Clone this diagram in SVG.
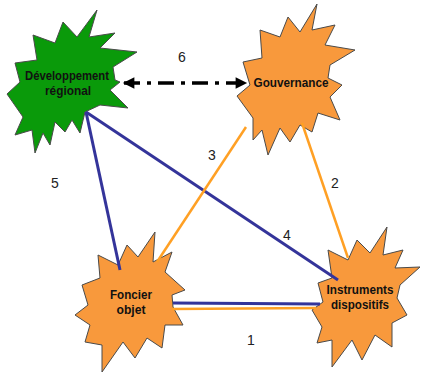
<svg xmlns="http://www.w3.org/2000/svg" width="422" height="374" viewBox="0 0 422 374">
<style>
.burst{stroke:#4a4a4a;stroke-width:1;stroke-linejoin:miter}
.orange{fill:#F8993C}
.green{fill:#0A9A0A}
.nt{font-family:"Liberation Sans",Arial,sans-serif;font-weight:bold;font-size:13px;fill:#111;text-anchor:middle}
.lbl{font-family:"Liberation Sans",Arial,sans-serif;font-size:14px;fill:#222;text-anchor:middle}
.blue{stroke:#34349A;stroke-width:3;fill:none}
.org{stroke:#FFA024;stroke-width:2.5;fill:none}
.dash{stroke:#000;stroke-width:3.5;fill:none;stroke-dasharray:16 7 4 7}
</style>
<defs>
<marker id="ah" viewBox="0 0 10 10" refX="9" refY="5" markerWidth="3.5" markerHeight="3.3" orient="auto-start-reverse" markerUnits="strokeWidth">
<path d="M0,0 L10,5 L0,10 z" fill="#000"/>
</marker>
</defs>
<g id="dev">
<polygon class="burst green" points="97,10 89,37 115,33 100,48 137,52 113,67 115,80 120,82 110,90 128,108 100,105 85,112 80,133 72,120 65,132 55,122 50,145 43,133 35,153 32,130 15,135 23,117 7,94 20,82 15,63 37,60 33,35 55,43 63,22 77,37"/>
<text class="nt" x="67" y="80" textLength="84" lengthAdjust="spacingAndGlyphs">Développement</text>
<text class="nt" x="68" y="95" textLength="46" lengthAdjust="spacingAndGlyphs">régional</text>
</g>
<g id="gouv">
<polygon class="burst orange" points="317,4 312,30 335,25 325,45 355,50 330,65 328,78 342,85 330,97 340,120 318,113 312,132 300,125 290,142 280,128 268,155 262,130 253,140 253,118 237,96 250,85 243,62 262,58 260,30 280,37 288,17 300,32"/>
<text class="nt" x="291" y="87" textLength="75" lengthAdjust="spacingAndGlyphs">Gouvernance</text>
</g>
<g id="foncier">
<polygon class="burst orange" points="155,232 153,262 172,252 165,272 185,290 172,295 173,307 183,325 165,325 162,348 147,338 135,358 123,342 102,372 102,345 85,342 90,325 75,315 88,305 82,285 100,278 98,255 118,265 127,245 138,257"/>
<text class="nt" x="131" y="299" textLength="42" lengthAdjust="spacingAndGlyphs">Foncier</text>
<text class="nt" x="131" y="314" textLength="29" lengthAdjust="spacingAndGlyphs">objet</text>
</g>
<g id="instr">
<polygon class="burst orange" points="387,227 383,255 403,250 395,268 420,267 400,285 397,298 407,315 392,323 392,347 375,335 362,360 352,340 332,367 332,340 317,343 322,327 312,310 323,302 318,283 332,278 328,250 348,260 357,240 370,253"/>
<text class="nt" x="360" y="294" textLength="67" lengthAdjust="spacingAndGlyphs">Instruments</text>
<text class="nt" x="360" y="309" textLength="58" lengthAdjust="spacingAndGlyphs">dispositifs</text>
</g>
<g id="connectors">
<line class="blue" x1="120" y1="270" x2="86" y2="112"/>
<line class="blue" x1="86" y1="112" x2="338" y2="280"/>
<line class="org" x1="157" y1="262" x2="246" y2="127"/>
<line class="org" x1="302" y1="123" x2="348" y2="258"/>
<line class="blue" x1="173" y1="303" x2="320" y2="304"/>
<line class="org" x1="172" y1="309" x2="316" y2="308"/>
<line class="dash" x1="124" y1="83" x2="246" y2="83" marker-start="url(#ah)" marker-end="url(#ah)"/>
</g>
<g id="labels">
<text class="lbl" x="182" y="62">6</text>
<text class="lbl" x="212" y="160">3</text>
<text class="lbl" x="335" y="188">2</text>
<text class="lbl" x="55" y="188">5</text>
<text class="lbl" x="287" y="240">4</text>
<text class="lbl" x="251" y="345">1</text>
</g>
</svg>
